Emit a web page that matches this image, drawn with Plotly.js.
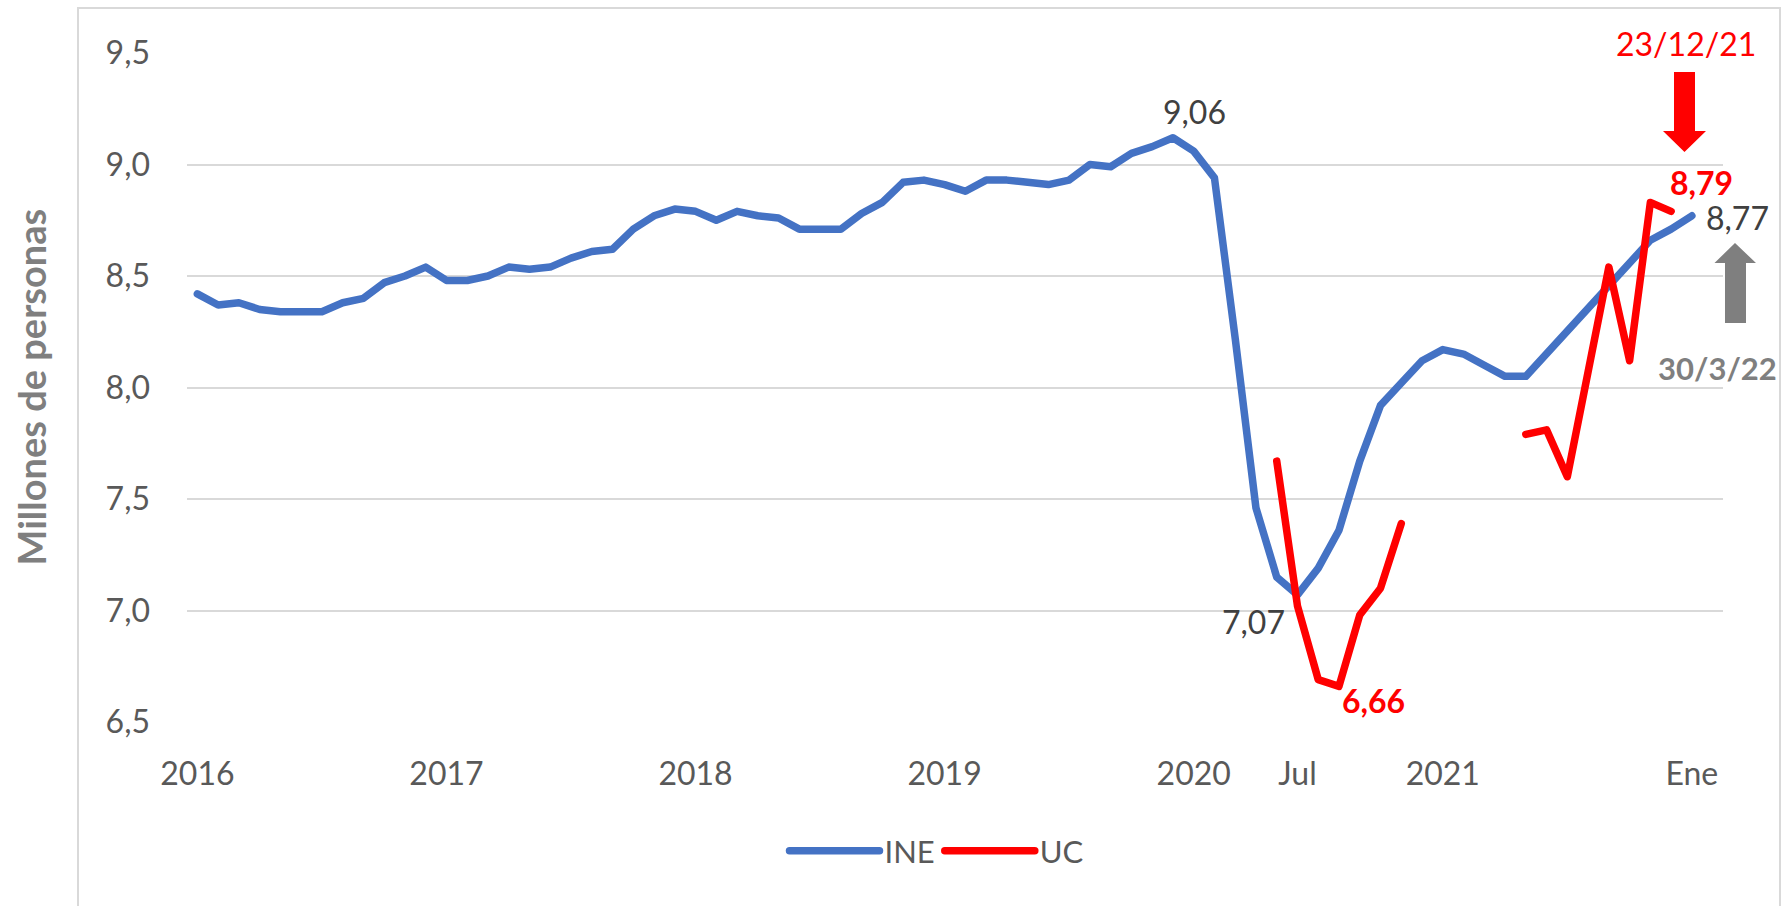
<!DOCTYPE html>
<html>
<head>
<meta charset="utf-8">
<script src="https://cdn.plot.ly/plotly-3.0.1.min.js"></script>
<style>
  body{margin:0;background:#fff;}
  #plot{width:1782px;height:906px;}
</style>
</head>
<body>
<div id="plot"></div>
<script>
//meses (categorias del eje x)
var months=[
  '2016-01','2016-02','2016-03','2016-04','2016-05','2016-06','2016-07','2016-08','2016-09','2016-10','2016-11','2016-12',
  '2017-01','2017-02','2017-03','2017-04','2017-05','2017-06','2017-07','2017-08','2017-09','2017-10','2017-11','2017-12',
  '2018-01','2018-02','2018-03','2018-04','2018-05','2018-06','2018-07','2018-08','2018-09','2018-10','2018-11','2018-12',
  '2019-01','2019-02','2019-03','2019-04','2019-05','2019-06','2019-07','2019-08','2019-09','2019-10','2019-11','2019-12',
  '2020-01','2020-02','2020-03','2020-04','2020-05','2020-06','2020-07','2020-08','2020-09','2020-10','2020-11','2020-12',
  '2021-01','2021-02','2021-03','2021-04','2021-05','2021-06','2021-07','2021-08','2021-09','2021-10','2021-11','2021-12',
  '2022-01'
];

//serie INE, millones de personas
var ine=[
  8.42,8.37,8.38,8.35,8.34,8.34,8.34,8.38,8.40,8.47,8.50,8.54,
  8.48,8.48,8.50,8.54,8.53,8.54,8.58,8.61,8.62,8.71,8.77,8.80,
  8.79,8.75,8.79,8.77,8.76,8.71,8.71,8.71,8.78,8.83,8.92,8.93,
  8.91,8.88,8.93,8.93,8.92,8.91,8.93,9.00,8.99,9.05,9.08,9.12,
  9.06,8.94,8.22,7.46,7.15,7.07,7.19,7.36,7.67,7.92,8.02,8.12,
  8.17,8.15,8.10,8.05,8.05,8.15,8.26,8.35,8.45,8.55,8.66,8.71,
  8.77
];

//serie UC (con huecos)
var uc=[
  null,null,null,null,null,null,null,null,null,null,null,null,
  null,null,null,null,null,null,null,null,null,null,null,null,
  null,null,null,null,null,null,null,null,null,null,null,null,
  null,null,null,null,null,null,null,null,null,null,null,null,
  null,null,null,null,7.67,7.02,6.69,6.66,6.98,7.10,7.39,null,
  null,null,null,null,7.79,7.81,7.60,8.07,8.54,8.12,8.83,8.79,
  null
];

//etiquetas del eje x
var tick_vals=['2016-01','2017-01','2018-01','2019-01','2020-01','2020-06','2021-01','2022-01'];
var tick_text=['2016','2017','2018','2019','2020','Jul','2021','Ene'];

const FONT='Lato, sans-serif';
const W=1782, H=906;
const L=187, R=1723, T=53, B=722;

//pixel -> coordenadas paper
function px(x){ return (x-L)/(R-L); }
function py(y){ return (B-y)/(B-T); }

function arrowPath(pts){
  let s='';
  for (let i=0;i<pts.length;i++){
    s+=(i==0?'M':'L')+px(pts[i][0]).toFixed(5)+','+py(pts[i][1]).toFixed(5);
  }
  return s+'Z';
}

function label(i,series,txt,dx,dy,color,bold){
  return {
    xref:'x',yref:'y',x:months[i],y:series[i],
    text:bold?'<b>'+txt+'</b>':txt,
    showarrow:false,xanchor:'center',yanchor:'middle',
    xshift:dx,yshift:dy,
    font:{family:FONT,size:32,color:color}
  };
}

var data=[
  {x:months,y:ine,name:'INE',mode:'lines',type:'scatter',
   line:{color:'#4472C4',width:7.5},hoverinfo:'skip'},
  {x:months,y:uc,name:'UC',mode:'lines',type:'scatter',connectgaps:false,
   line:{color:'#FF0000',width:7.5},hoverinfo:'skip'}
];

var layout={
  width:W,height:H,
  margin:{l:L,r:W-R,t:T,b:H-B},
  paper_bgcolor:'#fff',plot_bgcolor:'#fff',
  separators:',.',
  font:{family:FONT,size:32,color:'#595959'},
  showlegend:true,
  legend:{orientation:'h',x:px(937),xanchor:'center',y:py(851),yanchor:'middle',
    font:{family:FONT,size:31,color:'#595959'},itemwidth:90,bgcolor:'rgba(0,0,0,0)'},
  xaxis:{type:'category',range:[-0.5,73.5],tickmode:'array',tickvals:tick_vals,ticktext:tick_text,
    showgrid:false,zeroline:false,showline:false,ticks:'',ticklabelstandoff:30,
    tickfont:{family:FONT,size:32,color:'#595959'},fixedrange:true},
  yaxis:{range:[6.5,9.5],dtick:0.5,tick0:6.5,tickformat:'.1f',
    showgrid:true,gridcolor:'#D9D9D9',gridwidth:2,zeroline:false,showline:false,ticks:'',
    ticklabelstandoff:36,tickfont:{family:FONT,size:32,color:'#595959'},fixedrange:true},
  shapes:[
    //marco del grafico
    {type:'rect',xref:'paper',yref:'paper',x0:px(78),x1:px(1780),y0:py(930),y1:py(8),
     line:{color:'#D9D9D9',width:2},layer:'below'},
    //flecha roja
    {type:'path',xref:'paper',yref:'paper',
     path:arrowPath([[1674,72],[1695,72],[1695,131],[1706,131],[1684.5,152],[1663,131],[1674,131]]),
     fillcolor:'#FF0000',line:{width:0}},
    //flecha gris
    {type:'path',xref:'paper',yref:'paper',
     path:arrowPath([[1725,323],[1746,323],[1746,263],[1756,263],[1735,243],[1714.5,263],[1725,263]]),
     fillcolor:'#7F7F7F',line:{width:0}}
  ],
  annotations:[
    {xref:'paper',yref:'paper',x:px(30),y:py(387.5),text:'<b>Millones de personas</b>',textangle:-90,
     showarrow:false,xanchor:'center',yanchor:'middle',font:{family:FONT,size:38,color:'#7F7F7F'}},
    label(48,ine,'9,06',1,40,'#404040',false),
    label(53,ine,'7,07',-44,-27,'#404040',false),
    label(72,ine,'8,77',46,-2,'#404040',false),
    label(55,uc,'6,66',34,-14,'#FF0000',true),
    label(71,uc,'8,79',30,29,'#FF0000',true),
    {xref:'paper',yref:'paper',x:px(1686),y:py(44),text:'23/12/21',showarrow:false,
     xanchor:'center',yanchor:'middle',font:{family:FONT,size:32,color:'#FF0000'}},
    //en el original queda cortada en el borde; aqui se deja entera
    {xref:'paper',yref:'paper',x:px(1779),y:py(368),text:'<b>30/3/22</b>',showarrow:false,
     xanchor:'right',yanchor:'middle',font:{family:FONT,size:31,color:'#7F7F7F'}}
  ]
};

Plotly.newPlot('plot',data,layout,{displayModeBar:false,staticPlot:true}).then(function(){
  //extremos redondeados como en Excel
  document.querySelectorAll('.scatterlayer path.js-line, .legend path.js-line').forEach(function(p){
    p.style.strokeLinecap='round';
    p.style.strokeLinejoin='round';
  });
});
</script>
</body>
</html>
